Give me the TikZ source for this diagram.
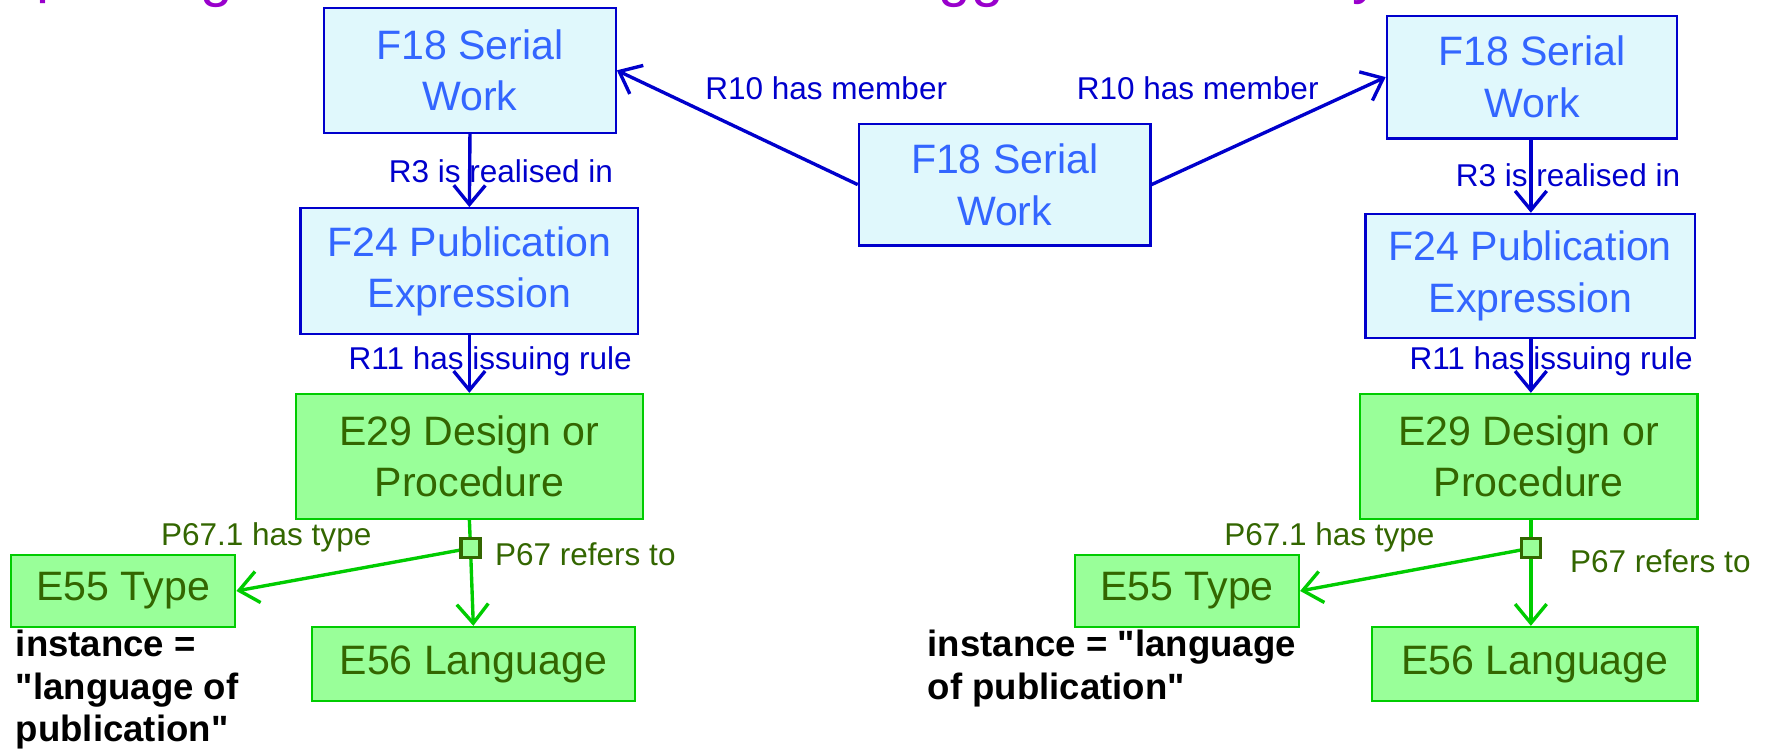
\documentclass[tikz,border=0pt]{standalone}
\usepackage{fontspec}
\setmainfont{Liberation Sans}[Ligatures=TeXOff]
\usetikzlibrary{arrows.meta}
\definecolor{bfill}{HTML}{E0F8FC}
\definecolor{bdraw}{HTML}{0000CC}
\definecolor{btext}{HTML}{3366FF}
\definecolor{gfill}{HTML}{99FF99}
\definecolor{gdraw}{HTML}{00CC00}
\definecolor{gtext}{HTML}{336600}
\definecolor{ptitle}{HTML}{9900CC}
\begin{document}
\begin{tikzpicture}[x=1pt,y=-1pt,
  bbox/.style={draw=bdraw, fill=bfill, line width=2pt, text=btext, align=center, inner sep=0pt,
    font=\fontsize{36.5}{46}\selectfont},
  gbox/.style={draw=gdraw, fill=gfill, line width=2pt, text=gtext, align=center, inner sep=0pt,
    font=\fontsize{36.5}{45}\selectfont},
  blab/.style={text=bdraw, inner sep=0pt, font=\fontsize{28}{32}\selectfont},
  glab/.style={text=gtext, inner sep=0pt, font=\fontsize{28}{32}\selectfont},
  barrow/.style={draw=bdraw, line width=3pt, -{Straight Barb[length=17pt,width=28pt,line width=3pt]}},
  garrow/.style={draw=gdraw, line width=3pt, -{Straight Barb[length=17pt,width=28pt,line width=3pt]}},
  gline/.style={draw=gdraw, line width=3pt},
  junc/.style={draw=gtext, fill=gfill, line width=3pt, minimum size=17pt, inner sep=0pt},
  note/.style={anchor=base west, inner sep=0pt, align=left, font=\fontsize{32.5}{38}\selectfont\bfseries},
  titlefrag/.style={anchor=base west, inner sep=0pt, text=ptitle, font=\fontsize{52}{52}\selectfont}
]
\useasboundingbox (0,0) rectangle (1568,668);

% cut-off title fragments
\begin{scope}
\clip (0,0) rectangle (1568,668);
\node[titlefrag] (t1) at (32.6,-7.5) {p};
\node[titlefrag] (t2) at (178,-4) {g};
\node[titlefrag] (t3) at (833.5,-4) {gg};
\node[titlefrag] (t4) at (1201,-6.5) {y};
\end{scope}

% left column
\node[bbox, minimum width=259pt, minimum height=111pt] (lF18) at (417.5,62.5) {F18 Serial\\Work};
\node[bbox, minimum width=300pt, minimum height=112pt] (lF24) at (417,241) {F24 Publication\\Expression};
\node[gbox, minimum width=308pt, minimum height=111pt] (lE29) at (417,405.5) {E29 Design or\\Procedure};
\node[gbox, minimum width=199pt, minimum height=64pt] (lE55) at (109.5,525) {E55 Type};
\node[gbox, minimum width=287pt, minimum height=66pt] (lE56) at (420.5,590) {E56 Language};

% center
\node[bbox, minimum width=259pt, minimum height=108pt] (cF18) at (892.5,164) {F18 Serial\\Work};

% right column
\node[bbox, minimum width=258pt, minimum height=109pt] (rF18) at (1361,68.5) {F18 Serial\\Work};
\node[bbox, minimum width=293pt, minimum height=110pt] (rF24) at (1359.5,245) {F24 Publication\\Expression};
\node[gbox, minimum width=300pt, minimum height=111pt] (rE29) at (1358,405.5) {E29 Design or\\Procedure};
\node[gbox, minimum width=199pt, minimum height=64pt] (rE55) at (1054.5,525) {E55 Type};
\node[gbox, minimum width=289pt, minimum height=66pt] (rE56) at (1363.5,590) {E56 Language};

% junctions
\coordinate (lj) at (418,487);
\coordinate (rj) at (1360,487);

% blue connectors
\draw[barrow] (cF18.west) -- (lF18.east);
\draw[barrow] (cF18.east) -- (rF18.west);
\draw[barrow] (lF18.south) -- (lF24.north);
\draw[barrow] (lF24.south) -- (lE29.north);
\draw[barrow] (rF18.south -| rj) -- (rF24.north -| rj);
\draw[barrow] (rF24.south -| rj) -- (rE29.north -| rj);

% green connectors
\draw[gline] (lE29.south) -- (lj);
\draw[garrow] (lj) -- (lE56.north);
\draw[garrow] (lj) -- (lE55.east);
\draw[gline] (rE29.south -| rj) -- (rj);
\draw[garrow] (rj) -- (rE56.north -| rj);
\draw[garrow] (rj) -- (rE55.east);
\node[junc] (ljn) at (lj) {};
\node[junc] (rjn) at (rj) {};

% labels
\node[blab] (l1) at (734,78) {R10 has member};
\node[blab] (l2) at (1064,78) {R10 has member};
\node[blab] (l3) at (445,152) {R3 is realised in};
\node[blab] (l4) at (1393,156) {R3 is realised in};
\node[blab] (l5) at (435.5,321) {R11 has issuing rule};
\node[blab] (l6) at (1378,321) {R11 has issuing rule};
\node[glab] (l7) at (236.5,477) {P67.1 has type};
\node[glab] (l8) at (1181,477) {P67.1 has type};
\node[glab] (l9) at (520,492) {P67 refers to};
\node[glab] (l10) at (1475,499) {P67 refers to};

% notes (base = baseline of last line)
\node[note] (n1) at (13.9,659) {instance =\\"language of\\publication"};
\node[note] (n2) at (824,621) {instance = "language\\of publication"};
\end{tikzpicture}
\end{document}
